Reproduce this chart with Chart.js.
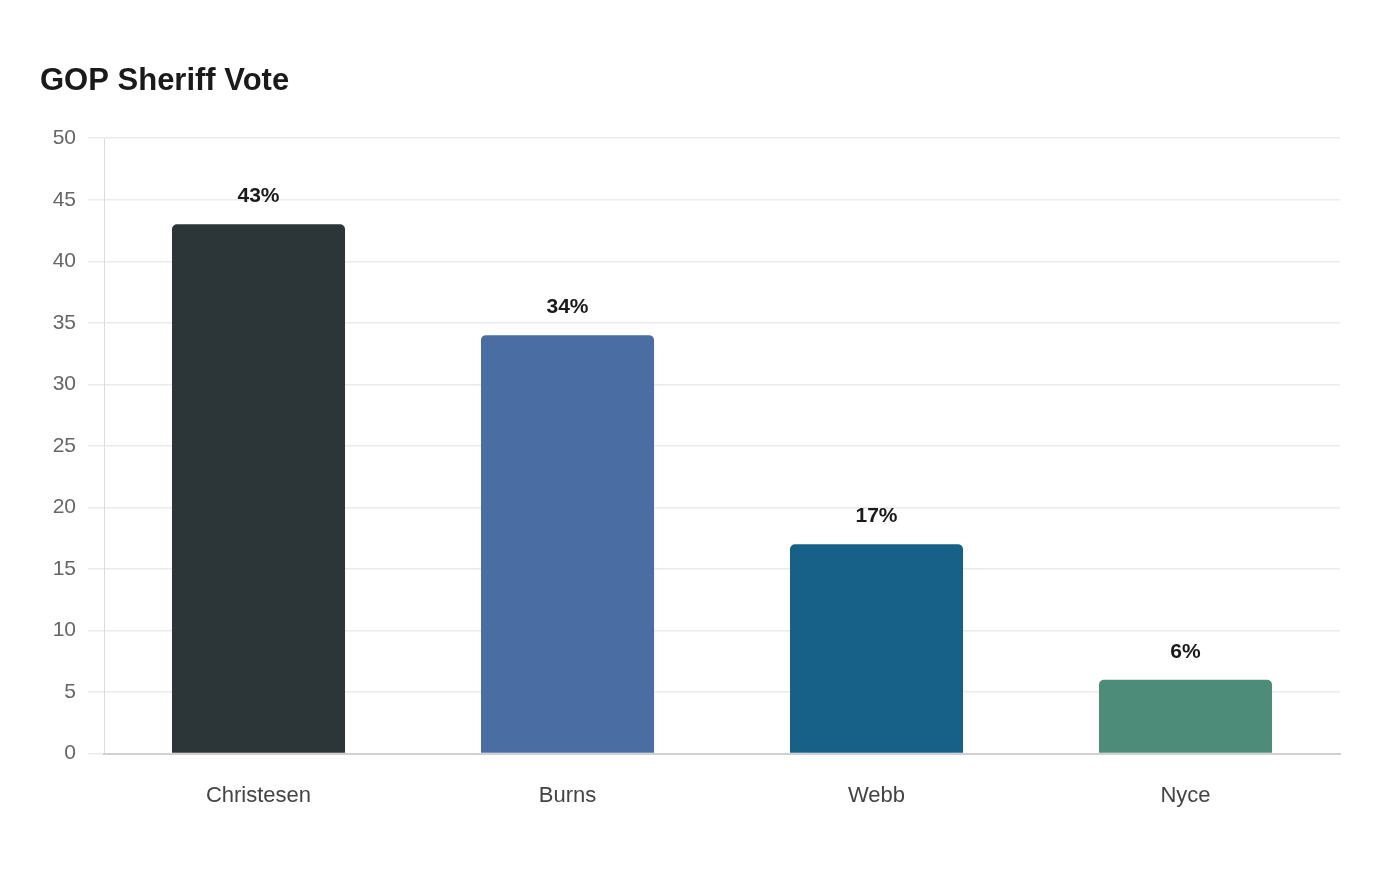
<!DOCTYPE html>
<html>
<head>
<meta charset="utf-8">
<script src="https://cdn.jsdelivr.net/npm/chart.js@4/dist/chart.umd.min.js"></script>
<style>
  html, body { margin: 0; padding: 0; background: #fff; }
  canvas { display: block; }
</style>
</head>
<body>
<canvas id="voteChart" width="1400" height="880"></canvas>
<script>
const candidates = ['Christesen', 'Burns', 'Webb', 'Nyce'];
const votePct = [43, 34, 17, 6];
const barColors = ['#2c3538', '#4a6ea4', '#176188', '#4e8c7a'];

// draws the "43%" labels above each bar
const valueLabels = {
    id: 'valueLabels',
    afterDatasetsDraw(chart) {
        const ctx = chart.ctx;
        const meta = chart.getDatasetMeta(0);
        ctx.save();
        ctx.font = 'bold 21px "Liberation Sans", Arial, sans-serif';
        ctx.fillStyle = '#1a1a1a';
        ctx.textAlign = 'center';
        ctx.textBaseline = 'middle';
        meta.data.forEach((bar, i) => {
            ctx.fillText(votePct[i] + '%', bar.x, bar.y - 28);
        });
        ctx.restore();
    }
};

document.addEventListener('DOMContentLoaded', () => {
    const ctx = document.getElementById('voteChart').getContext('2d');
    Chart.defaults.font.family = '"Liberation Sans", Arial, sans-serif';

    new Chart(ctx, {
        type: 'bar',
        data: {
            labels: candidates,
            datasets: [{
                data: votePct,
                backgroundColor: barColors,
                borderRadius: 5,
                borderSkipped: 'start',
                categoryPercentage: 0.8,
                barPercentage: 0.7
            }]
        },
        options: {
            responsive: false,
            animation: false,
            layout: {
                padding: { left: 40, right: 60, top: 0, bottom: 42 }
            },
            plugins: {
                legend: { display: false },
                tooltip: { enabled: false },
                title: {
                    display: true,
                    text: 'GOP Sheriff Vote',
                    align: 'start',
                    color: '#1a1a1a',
                    font: { size: 31, weight: 'bold' },
                    padding: { top: 63, bottom: 38 }
                }
            },
            scales: {
                y: {
                    min: 0,
                    max: 50,
                    afterFit: (scale) => { scale.width = 64; },
                    ticks: {
                        stepSize: 5,
                        color: '#666',
                        padding: 12,
                        font: { size: 21 }
                    },
                    grid: {
                        color: '#ebebeb',
                        tickLength: 16,
                        lineWidth: 1.5
                    },
                    border: { color: '#dcdcdc', width: 1 }
                },
                x: {
                    ticks: {
                        color: '#444',
                        padding: 29,
                        font: { size: 22 }
                    },
                    grid: { display: false, drawTicks: false },
                    border: { color: '#d0d0d0', width: 2 }
                }
            }
        },
        plugins: [valueLabels]
    });
});
</script>
</body>
</html>
